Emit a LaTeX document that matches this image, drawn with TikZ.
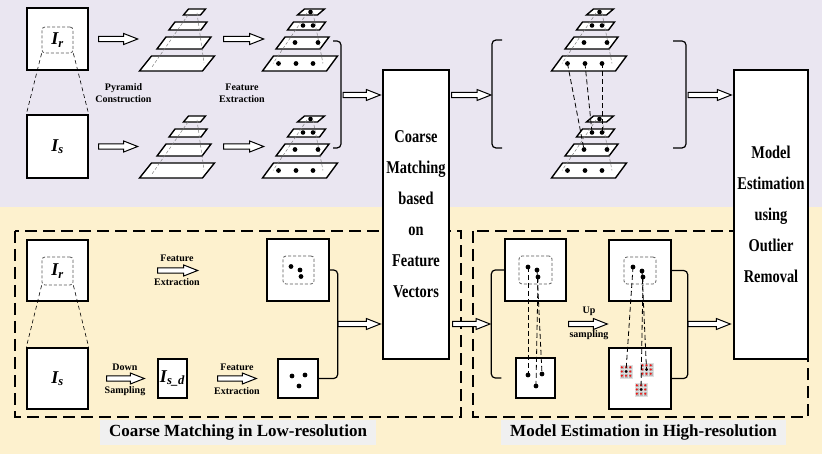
\documentclass[tikz,border=0pt]{standalone}
\usepackage{fontspec}
\setmainfont{Liberation Serif}
\newfontfamily\narrowserif[FakeStretch=0.8]{Liberation Serif}
\usepackage{tikz}
\usetikzlibrary{positioning,calc}

\definecolor{topbg}{RGB}{234,230,241}
\definecolor{botbg}{RGB}{253,241,206}
\definecolor{tagbg}{RGB}{240,240,240}
\definecolor{patchred}{RGB}{240,20,20}

% one slanted level: centre x, centre y, width, height, slant
\newcommand{\pyrlevel}[5]{%
  \draw[levelbox] (#1-#3/2+#5/2,#2-#4/2) -- ++(#3,0) -- ++(-#5,#4) -- ++(-#3,0) -- cycle;}
\newcommand{\plainpyr}[2]{%
  \pyrlevel{#1}{#2}{63}{15}{12}
  \pyrlevel{#1+7}{#2-20.5}{45}{12}{9}
  \pyrlevel{#1+11}{#2-37.5}{32}{8}{6}
  \pyrlevel{#1+17.5}{#2-51.5}{17}{6}{5}
  \draw[persp] (#1+11,#2-48.5) -- (#1-25,#2+3.5);
  \draw[persp] (#1+20,#2-50.5) -- (#1+27,#2-0.5);}
\newcommand{\featpyr}[2]{%
  \pyrlevel{#1}{#2}{64}{15}{11}
  \pyrlevel{#1+2.5}{#2-20.5}{44}{12}{9}
  \pyrlevel{#1+6.5}{#2-37.5}{32}{8}{6}
  \pyrlevel{#1+11}{#2-51.5}{20}{6}{7}
  \draw[persp] (#1+7,#2-50.5) -- (#1-27,#2);
  \draw[persp] (#1+13,#2-50.5) -- (#1+23,#2);
  \foreach \dx in {-21.5,-4,13} \fill (#1+\dx,#2) circle (2.4pt);
  \foreach \dx in {-5,18} \fill (#1+\dx,#2-21) circle (2.4pt);
  \foreach \dx in {3,13} \fill (#1+\dx,#2-38) circle (2.3pt);
  \fill (#1+10.5,#2-51.5) circle (2.3pt);}
% hollow block arrow between two points on one row
\newcommand{\fatarrow}[2]{%
  \draw[fatarr] let \p1=#1, \p2=#2 in
    (\x1,\y1+2.7pt) -- (\x2-14pt,\y1+2.7pt) -- (\x2-14pt,\y1+5.5pt) -- (\x2,\y1)
    -- (\x2-14pt,\y1-5.5pt) -- (\x2-14pt,\y1-2.7pt) -- (\x1,\y1-2.7pt) -- cycle;}
% 3x3 neighbourhood drawn on a patch node
\newcommand{\patchgrid}[1]{%
  \foreach \i in {-4.2,0,4.2} {\foreach \j in {-4.2,0,4.2} {
    \draw[patchcell] ($(#1)+(\i-2.1,\j-2.1)$) rectangle ++(4.2,4.2);
    \fill[patchred] ($(#1)+(\i,\j)$) circle (1.15pt);}}
  \fill (#1) circle (1.5pt);}

\begin{document}
\begin{tikzpicture}[x=1pt, y=-1pt,
  imgbox/.style={draw, fill=white, line width=1.4pt, inner sep=0pt,
                 font=\bfseries\itshape\fontsize{18}{18}\selectfont},
  roi/.style={draw=gray!70!black, line width=0.8pt, dash pattern=on 3pt off 2pt,
              rounded corners=3pt, inner sep=0pt,
              font=\bfseries\itshape\fontsize{18}{18}\selectfont},
  bigbox/.style={draw, fill=white, line width=1.4pt, align=center, inner xsep=1pt,
                 font=\narrowserif\bfseries\fontsize{18}{31}\selectfont},
  lbl/.style={align=center, inner sep=0pt, font=\bfseries\fontsize{10}{12}\selectfont},
  tag/.style={fill=tagbg, inner xsep=9pt, minimum height=25pt,
              font=\bfseries\fontsize{17}{17}\selectfont},
  dot/.style={circle, fill, inner sep=0pt, minimum size=4.8pt},
  patch/.style={inner sep=0pt, minimum size=12.6pt},
  patchcell/.style={fill=gray!55, draw=gray!25, line width=0.4pt},
  levelbox/.style={draw, fill=white, line width=1.4pt},
  persp/.style={gray, line width=0.5pt, dash pattern=on 3pt off 2pt},
  thinlink/.style={line width=0.6pt, dash pattern=on 4pt off 3pt},
  match/.style={line width=0.8pt, dash pattern=on 5pt off 3pt},
  group/.style={line width=1.8pt, dash pattern=on 12pt off 6pt},
  brk/.style={line width=1.2pt, rounded corners=4pt},
  fatarr/.style={draw, fill=white, line width=1pt}
]
  \fill[topbg] (0,0) rectangle (822,207);
  \fill[botbg] (0,207) rectangle (822,454);
  \useasboundingbox (0,0) rectangle (822,454);

  % the two stages of the lower half
  \draw[group] (15,231) rectangle (461,417);
  \draw[group] (473,231) rectangle (808,417);

  \node[bigbox, minimum width=66pt, minimum height=289pt] (coarse) at (416,214.5)
    {Coarse\\Matching\\based\\on\\Feature\\Vectors};
  \node[bigbox, minimum width=74pt, minimum height=289pt] (model) at (771,214.5)
    {Model\\Estimation\\using\\Outlier\\Removal};

  % pyramid matching (top)
  \node[imgbox, minimum width=61pt, minimum height=62pt] (ir) at (57.5,39) {};
  \node[roi, minimum width=31pt, minimum height=26pt] (irin) at (57.5,40) {I\textsubscript{r}};
  \node[imgbox, minimum width=61pt, minimum height=63pt] (is) at (57.5,146.5) {I\textsubscript{s}};
  \draw[thinlink] (irin.south west) -- (is.north west);
  \draw[thinlink] (irin.south east) -- (is.north east);

  \plainpyr{177}{63.5}
  \plainpyr{177}{170.5}
  \featpyr{300}{63.5}
  \featpyr{300}{170.5}

  \fatarrow{($(ir.east)+(10,0)$)}{($(ir.east)+(49,0)$)}
  \fatarrow{($(ir.east)+(135,0)$)}{($(ir.east)+(175,0)$)}
  \fatarrow{($(is.east)+(10,0)$)}{($(is.east)+(49,0)$)}
  \fatarrow{($(is.east)+(135,0)$)}{($(is.east)+(175,0)$)}
  \node[lbl] (pyrtxt) at (123.5,93) {Pyramid\\Construction};
  \node[lbl] (feattxt) at (242,93) {Feature\\Extraction};

  \coordinate (bra) at (341,95);
  \coordinate (brb) at (492,95);
  \coordinate (brc) at (686,95);
  \draw[brk] (333,41) -- (341,41) -- (341,148) -- (333,148);
  \draw[brk] (502,40) -- (492,40) -- (492,148) -- (502,148);
  \draw[brk] (673,41) -- (686,41) -- (686,148) -- (673,148);
  \fatarrow{($(bra)+(2,0)$)}{($(coarse.west |- bra)+(-2,0)$)}
  \fatarrow{($(coarse.east |- brb)+(2,0)$)}{($(brb)+(-1,0)$)}
  \fatarrow{($(brc)+(2,0)$)}{($(model.west |- brc)+(-2,0)$)}

  \featpyr{589}{63.5}
  \featpyr{589}{170.5}
  \coordinate (u1) at (567.5,63.5);
  \coordinate (u2) at (585,63.5);
  \coordinate (u3) at (602,63.5);
  \coordinate (l1) at (584,149.5);
  \coordinate (l2) at (592,132.5);
  \coordinate (l3) at (602,132.5);
  \draw[match] (u1) -- (l1);
  \draw[match] (u2) -- (l2);
  \draw[match] (u3) -- (l3);

  % coarse matching in low resolution
  \node[imgbox, minimum width=61pt, minimum height=61pt] (ir2) at (57.5,270.5) {};
  \node[roi, minimum width=31pt, minimum height=28pt] (irin2) at (57.5,271) {I\textsubscript{r}};
  \node[imgbox, minimum width=61pt, minimum height=61pt] (is2) at (57.5,378.5) {I\textsubscript{s}};
  \node[imgbox, minimum width=29pt, minimum height=39pt] (isd) at (172.5,378.5) {I\textsubscript{s\_d}};
  \draw[thinlink] (irin2.south west) -- (is2.north west);
  \draw[thinlink] (irin2.south east) -- (is2.north east);

  \node[imgbox, minimum width=62pt, minimum height=62pt] (fr) at (298,270) {};
  \node[roi, minimum width=31pt, minimum height=28pt] (frin) at (298.5,270) {};
  \node[dot] (fr1) at ($(fr)+(-7,-3.5)$) {};
  \node[dot] (fr2) at ($(fr)+(2,0)$) {};
  \node[dot] (fr3) at ($(fr)+(3,6.5)$) {};
  \node[imgbox, minimum width=40pt, minimum height=39pt] (fs) at (298,378.5) {};
  \node[dot] (fs1) at ($(fs)+(-6,-2.5)$) {};
  \node[dot] (fs2) at ($(fs)+(7,-3.5)$) {};
  \node[dot] (fs3) at ($(fs)+(1,7.5)$) {};

  \fatarrow{($(ir2.east)+(69,0)$)}{($(ir2.east)+(109,0)$)}
  \fatarrow{($(is2.east)+(18,0)$)}{($(isd.west)+(-13,0)$)}
  \fatarrow{($(isd.east)+(30,0)$)}{($(fs.west)+(-21,0)$)}
  \node[lbl] (fetop) at (177,258) {Feature};
  \node[lbl] (fetop2) at (177,282) {Extraction};
  \node[lbl] (downtxt) at (125,367) {Down};
  \node[lbl] (downtxt2) at (125,391) {Sampling};
  \node[lbl] (febot) at (237,367) {Feature};
  \node[lbl] (febot2) at (237,391) {Extraction};

  \draw[brk] (fr.east) -- ++(8,0) |- (fs.east);
  \coordinate (brd) at (337,324);
  \coordinate (bre) at (492,324);
  \fatarrow{($(brd)+(1,0)$)}{($(coarse.west |- brd)+(-2,0)$)}
  \fatarrow{($(coarse.east |- bre)+(3,0)$)}{($(bre)+(-2,0)$)}

  % model estimation in high resolution
  \node[imgbox, minimum width=61pt, minimum height=62pt] (boxa) at (535.5,270) {};
  \node[roi, minimum width=33pt, minimum height=28pt] (boxain) at (535.5,270) {};
  \node[dot] (a1) at ($(boxa)+(-7.5,-3)$) {};
  \node[dot] (a2) at ($(boxa)+(1.5,0)$) {};
  \node[dot] (a3) at ($(boxa)+(2.5,7)$) {};
  \node[imgbox, minimum width=39pt, minimum height=40pt] (boxb) at (535.5,378) {};
  \node[dot] (b1) at ($(boxb)+(-7.5,-3)$) {};
  \node[dot] (b2) at ($(boxb)+(6.5,-4)$) {};
  \node[dot] (b3) at ($(boxb)+(0.5,8)$) {};
  \draw[match] (a1.center) -- (b1.center);
  \draw[match] (a2.center) -- (b2.center);
  \draw[match] (a3.center) -- (b3.center);

  \node[imgbox, minimum width=62pt, minimum height=61pt] (boxc) at (640,270.5) {};
  \node[roi, minimum width=32pt, minimum height=27pt] (boxcin) at (640,270.5) {};
  \node[dot] (c1) at ($(boxc)+(-7,-3.5)$) {};
  \node[dot] (c2) at ($(boxc)+(2,0.5)$) {};
  \node[dot] (c3) at ($(boxc)+(3,6.5)$) {};
  \node[imgbox, minimum width=62pt, minimum height=61pt] (boxd) at (640,378.5) {};
  \node[patch] (pa) at (626,371.5) {};
  \node[patch] (pb) at (646.5,369.5) {};
  \node[patch] (pc) at (641,389.5) {};
  \patchgrid{pa}
  \patchgrid{pb}
  \patchgrid{pc}
  \draw[match] (c1.center) -- (pa.center);
  \draw[match] (c2.center) -- (pb.center);
  \draw[match] (c3.center) -- (pc.center);

  \draw[brk] (boxa.west) -- ++(-13,0) |- ($(boxb.west)+(-14,0)$);
  \draw[brk] (boxc.east) -- ++(16,0) |- (boxd.east);
  \coordinate (brf) at (687,324);
  \fatarrow{($(boxa.east |- bre)+(2,0)$)}{($(boxc.west |- bre)+(-1,0)$)}
  \fatarrow{($(brf)+(1,0)$)}{($(model.west |- brf)+(-3,0)$)}
  \node[lbl] (uptxt) at (589,311) {Up};
  \node[lbl] (uptxt2) at (589,335) {sampling};

  \node[tag] (lowtag) at (238,432.5) {Coarse Matching in Low-resolution};
  \node[tag] (hightag) at (643.5,432.5) {Model Estimation in High-resolution};
\end{tikzpicture}
\end{document}
